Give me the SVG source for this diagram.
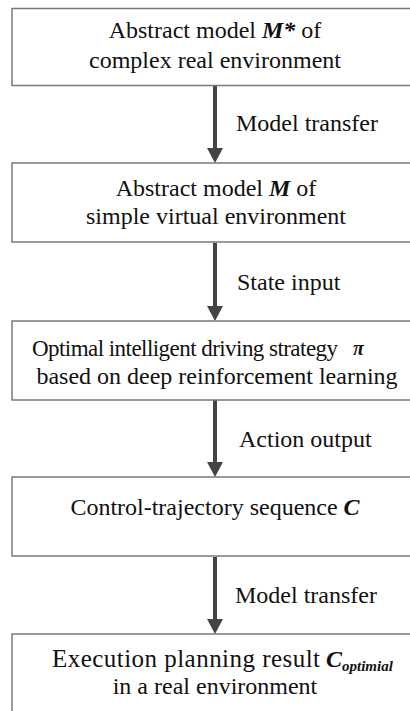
<svg xmlns="http://www.w3.org/2000/svg" width="410" height="711" viewBox="0 0 410 711" font-family="Liberation Serif, serif">
<style>
.box{fill:#ffffff;stroke:#7a7a7a;stroke-width:1.5}
.t{font-size:24px;fill:#111111}
.m{text-anchor:middle}
.bi{font-weight:bold;font-style:italic}
.conn{stroke:#444444;stroke-width:4;fill:none}
.head{fill:#444444}
</style>
<rect width="410" height="711" fill="#ffffff"/>
<g id="connectors">
  <line class="conn" x1="215" y1="86" x2="215" y2="150"/>
  <polygon class="head" points="207,148 223,148 215,163"/>
  <text class="t" x="236" y="131" font-family="Liberation Serif">Model transfer</text>
  <line class="conn" x1="215" y1="243" x2="215" y2="308"/>
  <polygon class="head" points="207,306 223,306 215,321"/>
  <text class="t" x="237" y="290" font-family="Liberation Serif">State input</text>
  <line class="conn" x1="215" y1="400" x2="215" y2="464"/>
  <polygon class="head" points="207,462 223,462 215,477"/>
  <text class="t" x="239" y="447" font-family="Liberation Serif">Action output</text>
  <line class="conn" x1="215" y1="557" x2="215" y2="621"/>
  <polygon class="head" points="207,619 223,619 215,634"/>
  <text class="t" x="235" y="603" font-family="Liberation Serif">Model transfer</text>
</g>
<g id="node1">
  <rect class="box" x="12" y="8.5" width="420" height="77"/>
  <text class="t m" x="215" y="38" font-family="Liberation Serif">Abstract model <tspan class="bi">M*</tspan> of</text>
  <text class="t m" x="215" y="68" font-family="Liberation Serif">complex real environment</text>
</g>
<g id="node2">
  <rect class="box" x="12" y="163" width="420" height="79"/>
  <text class="t m" x="216" y="196" font-family="Liberation Serif">Abstract model <tspan class="bi">M</tspan> of</text>
  <text class="t m" x="216" y="224" font-family="Liberation Serif">simple virtual environment</text>
</g>
<g id="node3">
  <rect class="box" x="12" y="321" width="420" height="79"/>
  <text class="t" x="32" y="356" font-family="Liberation Serif" style="font-size:23px" textLength="306" lengthAdjust="spacing">Optimal intelligent driving strategy</text>
  <text class="t bi" x="353" y="355" font-family="Liberation Serif" style="font-size:20px">π</text>
  <text class="t m" x="217" y="384" font-family="Liberation Serif">based on deep reinforcement learning</text>
</g>
<g id="node4">
  <rect class="box" x="12" y="477" width="420" height="79"/>
  <text class="t m" x="215" y="515" font-family="Liberation Serif">Control-trajectory sequence <tspan class="bi">C</tspan></text>
</g>
<g id="node5">
  <rect class="box" x="12" y="634" width="420" height="90"/>
  <text class="t" x="52" y="667" font-family="Liberation Serif" style="font-size:25px" textLength="268" lengthAdjust="spacing">Execution planning result</text>
  <text class="t" x="326" y="667" font-family="Liberation Serif"><tspan class="bi">C</tspan><tspan class="bi" style="font-size:15px" dy="4">optimial</tspan></text>
  <text class="t m" x="215" y="694" font-family="Liberation Serif">in a real environment</text>
</g>
</svg>
